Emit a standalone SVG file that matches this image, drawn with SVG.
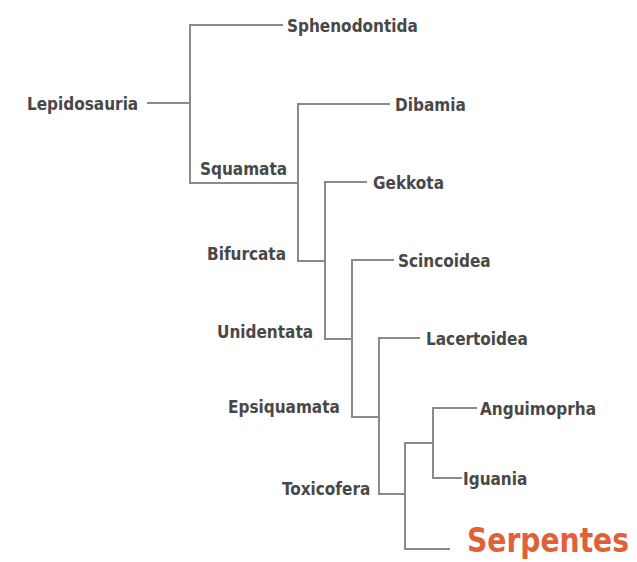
<svg xmlns="http://www.w3.org/2000/svg" width="637" height="562" viewBox="0 0 637 562">
<style>
.lbl{font-family:"DejaVu Sans Condensed","DejaVu Sans",sans-serif;font-stretch:condensed;font-weight:bold;font-size:17px;fill:#484848}
.hl{font-family:"DejaVu Sans Condensed","DejaVu Sans",sans-serif;font-stretch:condensed;font-weight:bold;font-size:33px;fill:#e0603a}
.ln{fill:none;stroke:#8a8a8a;stroke-width:2}
</style>
<rect width="637" height="562" fill="#ffffff"/>
<g id="connectors">
<path class="ln" d="M147 103 H190"/>
<path class="ln" d="M283 25 H190 V183 H298"/>
<path class="ln" d="M390 104 H298 V261 H325"/>
<path class="ln" d="M367 182 H325 V339 H352"/>
<path class="ln" d="M394 260 H352 V417 H379"/>
<path class="ln" d="M420 338 H379 V494 H405"/>
<path class="ln" d="M433 443 H405 V549 H450"/>
<path class="ln" d="M477 408 H433 V478 H462"/>
</g>
<g id="lepidosauria"><text class="lbl" x="27" y="110">Lepidosauria</text></g>
<g id="sphenodontida"><text class="lbl" x="287" y="32">Sphenodontida</text></g>
<g id="squamata"><text class="lbl" x="200" y="175">Squamata</text></g>
<g id="dibamia"><text class="lbl" x="395" y="111">Dibamia</text></g>
<g id="bifurcata"><text class="lbl" x="207" y="260">Bifurcata</text></g>
<g id="gekkota"><text class="lbl" x="373" y="189">Gekkota</text></g>
<g id="unidentata"><text class="lbl" x="217" y="338">Unidentata</text></g>
<g id="scincoidea"><text class="lbl" x="398" y="267">Scincoidea</text></g>
<g id="epsiquamata"><text class="lbl" x="228" y="413">Epsiquamata</text></g>
<g id="lacertoidea"><text class="lbl" x="426" y="345">Lacertoidea</text></g>
<g id="toxicofera"><text class="lbl" x="282" y="495">Toxicofera</text></g>
<g id="anguimoprha"><text class="lbl" x="480" y="415">Anguimoprha</text></g>
<g id="iguania"><text class="lbl" x="463" y="485">Iguania</text></g>
<g id="serpentes"><text class="hl" x="467" y="552" textLength="162" lengthAdjust="spacingAndGlyphs">Serpentes</text></g>
</svg>
